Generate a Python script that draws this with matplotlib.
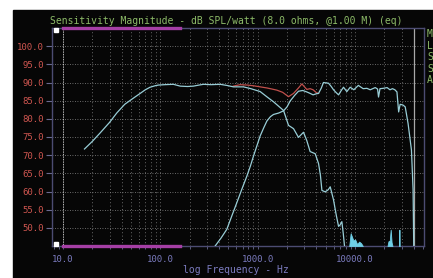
import matplotlib
matplotlib.use('Agg')
import matplotlib.pyplot as plt
from matplotlib.patches import Rectangle

# woofer response (Hz, dB)
woof_f = [16.6, 20, 24, 30, 35.6, 43, 52.8, 62, 70, 78.3, 88, 95.6, 110, 136, 160, 190, 218,
          250, 277, 330, 411, 480, 563, 713, 850, 1059, 1250, 1450, 1650, 1840, 2070, 2330,
          2620, 2950, 3190, 3450, 3890, 4210, 4400, 4560, 4930, 5300, 5550, 6000, 6400,
          6760, 7000, 7310, 7550, 7780]
woof_db = [71.7, 73.8, 76.1, 79.0, 81.6, 84.0, 85.7, 87.0, 88.0, 88.7, 89.1, 89.3, 89.4, 89.5,
           89.0, 88.9, 89.0, 89.3, 89.5, 89.4, 89.5, 89.2, 88.8, 88.8, 88.3, 87.5, 86.0, 84.7,
           83.4, 82.3, 78.2, 77.3, 74.9, 76.3, 74.0, 71.0, 70.4, 67.7, 64.5, 60.3, 59.9, 60.5,
           61.3, 57.7, 53.5, 50.4, 50.8, 51.7, 48.5, 45.0]

# tweeter response
tw_f = [365, 420, 481, 540, 609, 690, 772, 840, 903, 980, 1059, 1150, 1241, 1350, 1450, 1640,
        1840, 2000, 2150, 2400, 2620, 2900, 3190, 3450, 3700, 4000, 4210, 4500, 4730, 5000,
        5330, 5650, 6000, 6400, 6760, 7200, 7600, 8220, 8900, 9700, 10800, 12100, 13200,
        14300, 16100, 17000, 17400, 18000, 19500, 21300, 22800, 24200, 25600, 26900, 28000,
        29000, 31000, 32700, 35000, 37900, 39400, 40000]
tw_db = [45.0, 47.2, 49.6, 53.2, 56.9, 60.8, 64.2, 67.0, 69.7, 72.6, 75.3, 77.5, 79.4, 80.6,
         81.2, 81.6, 82.2, 83.3, 84.9, 86.5, 87.6, 87.8, 87.4, 87.0, 86.6, 86.9, 87.0, 88.5,
         90.0, 89.9, 89.8, 89.0, 88.0, 87.2, 86.6, 87.8, 88.7, 87.5, 88.7, 88.0, 89.2, 88.3,
         88.4, 88.0, 88.6, 88.2, 86.0, 88.3, 88.4, 88.6, 88.0, 88.3, 88.0, 87.4, 81.9, 84.0,
         83.8, 83.3, 78.7, 71.4, 60.5, 45.0]

# summed response (visible where it departs from the drivers)
sum_f = [560, 659, 780, 903, 1060, 1241, 1400, 1570, 1800, 2070, 2330, 2600, 2840, 3190,
         3450, 3700, 4000, 4210]
sum_db = [89.0, 89.4, 89.3, 89.1, 88.8, 88.5, 88.2, 87.9, 87.3, 86.1, 87.0, 88.4, 89.6, 88.1,
          88.3, 88.0, 87.2, 87.0]

# noise floor spikes
noise1_f = [8700, 9000, 9300, 9600, 10000, 10500, 11000, 11500, 12000]
noise1_db = [45.0, 48.5, 47.5, 46.5, 46.8, 45.5, 46.2, 45.8, 45.0]
noise2_f = [21500, 22000, 22700, 23200, 23700, 24200]
noise2_db = [45.0, 46.3, 46.5, 49.5, 46.0, 45.0]
noise3_f = [28300, 28500, 28700]
noise3_db = [45.0, 49.5, 45.0]

yticks = [50, 55, 60, 65, 70, 75, 80, 85, 90, 95, 100]
xticks = [10, 100, 1000, 10000]
legend_letters = ['M', 'L', 'S', 'S', 'A']

cyan = '#98cdd6'
red = '#c0504c'
green = '#8dbb68'
blue = '#7b7bbf'
grid_c = '#8a8a8a'

fig = plt.figure(figsize=(4.33, 2.78), dpi=100)
fig.patch.set_facecolor('white')
fig.patches.append(Rectangle((13/433., 0), 1, 1 - 10/278., transform=fig.transFigure,
                             color='#060606', zorder=-10))

ax = fig.add_axes([52/433., 1 - 246/278., 372/433., 218/278.])
ax.set_facecolor('#060606')
ax.set_xscale('log')
ax.set_xlim(7.7, 51000)
ax.set_ylim(45, 105)

for s in ax.spines.values():
    s.set_color('#4c4c72')
    s.set_linewidth(1.0)

# grid
for y in yticks:
    ax.axhline(y, color=grid_c, ls=(0, (1, 2)), lw=0.6, zorder=1)
for dec in [10, 100, 1000, 10000]:
    for m in range(1, 10):
        f = dec * m
        if f > 40000:
            continue
        if f == 10:
            ax.axvline(f, color='white', ls=(0, (1, 1)), lw=0.6, zorder=1)
        else:
            ax.axvline(f, color=grid_c, ls=(0, (1, 3)), lw=0.6, zorder=1)

ax.axvline(40500, color='#a8a8a8', lw=0.9, zorder=2)

# curves
ax.plot(sum_f, sum_db, color=red, lw=0.9, zorder=3)
ax.plot(woof_f, woof_db, color=cyan, lw=0.9, zorder=4)
ax.plot(tw_f, tw_db, color=cyan, lw=0.9, zorder=4)
for nf, nd in [(noise1_f, noise1_db), (noise2_f, noise2_db), (noise3_f, noise3_db)]:
    ax.fill_between(nf, 45, nd, color='#6fcfe6', lw=0.6, zorder=4)

# purple markers
xt = ax.get_xaxis_transform()
ax.plot([10, 160], [1, 1], transform=xt, color='#a53fa5', lw=2.4, clip_on=False, zorder=5)
ax.plot([10, 160], [0, 0], transform=xt, color='#a53fa5', lw=2.4, clip_on=False, zorder=5)
ax.plot([8.4], [0.99], 's', transform=xt, color='white', ms=3, clip_on=False, zorder=6)
ax.plot([8.4], [0.01], 's', transform=xt, color='white', ms=3, clip_on=False, zorder=6)

# ticks
ax.set_yticks(yticks)
ax.set_yticklabels(['%.1f' % v for v in yticks], family='DejaVu Sans Mono',
                   fontsize=6.5, color='#cf5650')
ax.set_xticks(xticks)
ax.set_xticklabels(['%.1f' % v for v in xticks], family='DejaVu Sans Mono',
                   fontsize=6.5, color=blue)
ax.xaxis.set_minor_locator(matplotlib.ticker.LogLocator(subs=range(2, 10)))
ax.xaxis.set_minor_formatter(matplotlib.ticker.NullFormatter())
ax.tick_params(axis='y', colors='#6a6a90', length=4, width=0.8, pad=2, labelcolor='#cf5650')
ax.tick_params(axis='x', which='both', colors='#6a6a90', length=2.5, width=0.6, pad=4,
               labelcolor=blue)

fig.text(236/433., 1 - 270/278., 'log Frequency - Hz', family='DejaVu Sans Mono',
         fontsize=7, color=blue, ha='center', va='center')

fig.text(0.522, 1 - 21/278., 'Sensitivity Magnitude - dB SPL/watt (8.0 ohms, @1.00 M) (eq)',
         family='DejaVu Sans Mono', fontsize=7, color=green, ha='center', va='center')

for i, t in enumerate(legend_letters):
    fig.text(427/433., 1 - (34 + i * 11.6)/278., t, family='DejaVu Sans Mono', fontsize=7,
             color=green, ha='left', va='center')

fig.savefig('out.png', dpi=100, facecolor=fig.get_facecolor())
